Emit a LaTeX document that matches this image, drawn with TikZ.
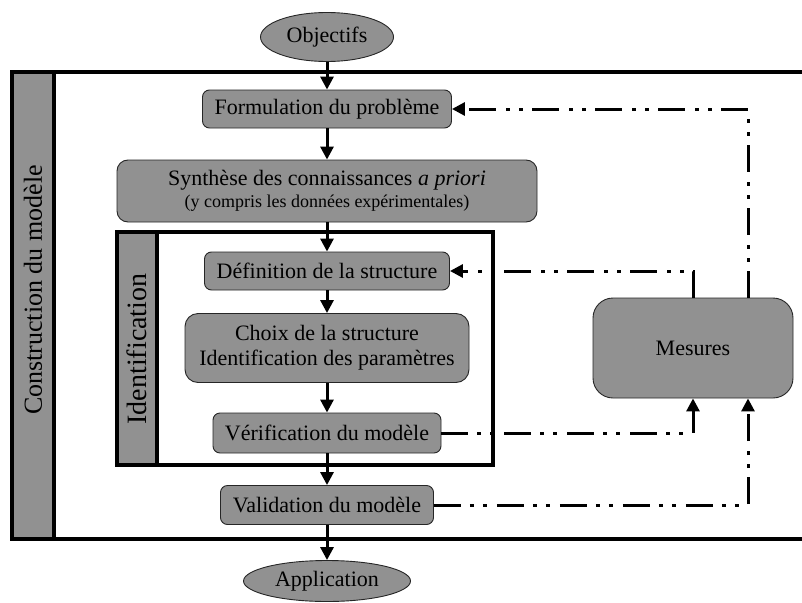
\documentclass[tikz,border=0pt]{standalone}
\usepackage{fontspec}
\setmainfont{Liberation Serif}
\newfontfamily\romfont{Liberation Serif}
\usepackage{tikz}
\usetikzlibrary{shapes.geometric}
\usetikzlibrary{arrows.meta}
\definecolor{boxgray}{RGB}{145,145,145}
\tikzset{
  etape/.style={draw=black!85, fill=boxgray, rounded corners=7pt, line width=0.9pt, align=center, inner sep=0pt, font=\romfont\fontsize{22}{25}\selectfont},
  bout/.style={ellipse, draw=black!85, fill=boxgray, line width=0.9pt, inner sep=0pt, font=\romfont\fontsize{22}{25}\selectfont},
  bande/.style={draw, fill=boxgray, line width=3.2pt},
  fleche/.style={line width=3pt, -{Triangle[length=13pt,width=13pt]}},
  retour/.style={line width=3pt, dash pattern=on 27pt off 9pt on 4pt off 9pt on 4pt off 10pt, -{Triangle[length=13pt,width=13pt]}},
}

\begin{document}
\begin{tikzpicture}[x=1pt,y=-1pt]
        \useasboundingbox (0,0) rectangle (802,602);
        % cadre construction
        \draw[line width=3.2pt] (802,72) -- (12,72) -- (12,539) -- (802,539);
        \draw[bande] (12,72) rectangle (54,539);
        \node[rotate=90, font=\romfont\fontsize{26}{28}\selectfont] (cons) at (33,290) {Construction du modèle};
        % cadre identification
        \draw[line width=3.2pt] (117,232) rectangle (493,465);
        \draw[bande] (117,232) rectangle (157,465);
        \node[rotate=90, font=\romfont\fontsize{28}{30}\selectfont] (iden) at (137,349) {Identification};

        % etapes
        \node[bout, minimum width=133pt, minimum height=49pt] (obj) at (327,37) {Objectifs};
        \node[etape, minimum width=249pt, minimum height=38pt] (form) at (327,109) {Formulation du problème};
        \node[etape, rounded corners=11pt, minimum width=420pt, minimum height=62pt] (synth) at (327,191) {Synthèse des connaissances \textit{a priori}\\[-3pt]{\fontsize{18}{20}\selectfont (y compris les données expérimentales)}};
        \node[etape, minimum width=245pt, minimum height=38pt] (defi) at (327,271) {Définition de la structure};
        \node[etape, rounded corners=13pt, minimum width=284pt, minimum height=69pt] (choix) at (327,348) {Choix de la structure\\Identification des paramètres};
        \node[etape, minimum width=228pt, minimum height=40pt] (veri) at (327,433) {Vérification du modèle};
        \node[etape, minimum width=213pt, minimum height=39pt] (valid) at (327,505) {Validation du modèle};
        \node[bout, minimum width=167pt, minimum height=41pt] (appl) at (327,581) {Application};
        \node[etape, rounded corners=20pt, minimum width=200pt, minimum height=100pt] (mes) at (693,348) {Mesures};

        % fleches
        \draw[fleche] (obj) -- (form);
        \draw[fleche] (form) -- (synth);
        \draw[fleche] (synth) -- (defi);
        \draw[fleche] (defi) -- (choix);
        \draw[fleche] (choix) -- (veri);
        \draw[fleche] (veri) -- (valid);
        \draw[fleche] (valid) -- (appl);

        % retours
        \coordinate (mq) at ([xshift=55pt]mes.north);
        \coordinate (ms) at ([xshift=55pt]mes.south);
        \draw[retour] (mes.north) -- (mes.north |- defi.east) -- (defi.east);
        \draw[retour] (mq) -- (mq |- form.east) -- (form.east);
        \draw[retour] (veri.east) -- (veri.east -| mes.south) -- (mes.south);
        \draw[retour] (valid.east) -- (valid.east -| ms) -- (ms);
    \end{tikzpicture}
\end{document}
